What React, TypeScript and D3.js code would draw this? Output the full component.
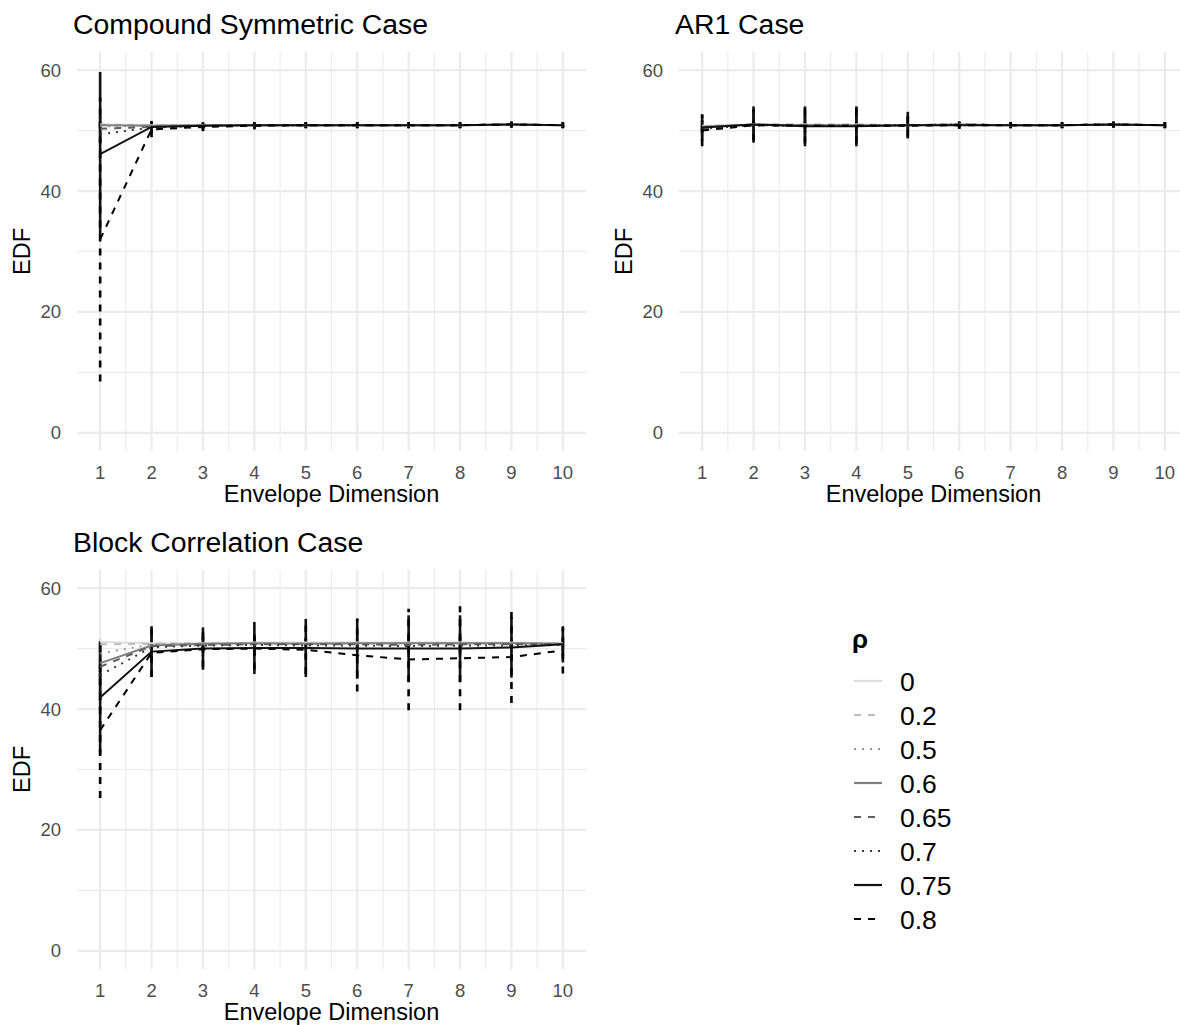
import React from "react";
import * as d3 from "d3";

const DIMS = [1, 2, 3, 4, 5, 6, 7, 8, 9, 10];
const RHO_LABELS = ["0", "0.2", "0.5", "0.6", "0.65", "0.7", "0.75", "0.8"];
const RHO_COLORS = ["#DDDDDD", "#BBBBBB", "#999999", "#7F7F7F", "#5E5E5E", "#3A3A3A", "#111111", "#000000"];
const RHO_DASH = ["", "7,7", "2,6", "", "7,7", "2,6", "", "7,7"];
const Y_TICKS = [0, 20, 40, 60];
const Y_MINOR = [10, 30, 50];
const X_MINOR = [1.5, 2.5, 3.5, 4.5, 5.5, 6.5, 7.5, 8.5, 9.5];

// Compound symmetric case: mean EDF per rho (rows) and envelope dimension (cols)
const csMean = [
  [51.0, 50.9, 50.9, 50.9, 50.9, 50.9, 50.9, 50.9, 51.0, 50.9],
  [51.0, 50.9, 50.9, 50.9, 50.9, 50.9, 50.9, 50.9, 51.0, 50.9],
  [50.7, 50.8, 50.9, 50.9, 50.9, 50.9, 50.9, 50.9, 51.0, 50.9],
  [50.9, 50.8, 50.9, 50.9, 50.9, 50.9, 50.9, 50.9, 51.0, 50.9],
  [50.3, 50.6, 50.8, 50.9, 50.9, 50.9, 50.9, 50.9, 51.0, 50.9],
  [49.4, 50.5, 50.8, 50.9, 50.9, 50.9, 50.9, 50.9, 51.0, 50.9],
  [46.1, 50.6, 50.8, 50.9, 50.9, 50.9, 50.9, 50.9, 51.0, 50.9],
  [32.0, 50.2, 50.6, 50.8, 50.9, 50.9, 50.9, 50.9, 51.0, 50.9],
];
const csErr = [
  [0.4, 0.3, 0.3, 0.3, 0.3, 0.3, 0.3, 0.3, 0.3, 0.3],
  [0.6, 0.4, 0.3, 0.3, 0.3, 0.3, 0.3, 0.3, 0.3, 0.3],
  [1.0, 0.5, 0.4, 0.3, 0.3, 0.3, 0.3, 0.3, 0.3, 0.3],
  [1.5, 0.6, 0.4, 0.4, 0.4, 0.4, 0.4, 0.4, 0.4, 0.4],
  [2.2, 0.7, 0.5, 0.4, 0.4, 0.4, 0.4, 0.4, 0.4, 0.4],
  [4.0, 0.8, 0.5, 0.5, 0.5, 0.5, 0.5, 0.5, 0.5, 0.5],
  [13.6, 1.0, 0.6, 0.5, 0.5, 0.5, 0.5, 0.5, 0.5, 0.5],
  [23.5, 1.3, 0.7, 0.6, 0.5, 0.5, 0.5, 0.5, 0.5, 0.5],
];

// AR1 case
const ar1Mean = [
  [50.8, 51.0, 51.0, 51.0, 50.9, 51.0, 50.9, 50.9, 51.0, 50.9],
  [50.7, 51.0, 51.0, 51.0, 50.9, 51.0, 50.9, 50.9, 51.0, 50.9],
  [50.6, 51.0, 50.9, 50.9, 50.9, 51.0, 50.9, 50.9, 51.0, 50.9],
  [50.6, 51.0, 50.9, 50.9, 50.9, 51.0, 50.9, 50.9, 51.0, 50.9],
  [50.4, 50.9, 50.8, 50.8, 50.9, 51.0, 50.9, 50.9, 51.0, 50.9],
  [50.3, 50.9, 50.8, 50.8, 50.9, 51.0, 50.9, 50.9, 51.0, 50.9],
  [50.5, 51.0, 50.7, 50.7, 50.9, 50.9, 50.9, 50.9, 51.0, 50.9],
  [50.0, 50.9, 50.8, 50.8, 50.8, 50.9, 50.9, 50.9, 51.0, 50.9],
];
const ar1Err = [
  [0.5, 0.5, 0.5, 0.5, 0.4, 0.3, 0.3, 0.3, 0.3, 0.3],
  [0.6, 0.7, 0.7, 0.7, 0.5, 0.3, 0.3, 0.3, 0.3, 0.3],
  [0.8, 1.0, 1.0, 1.0, 0.7, 0.4, 0.4, 0.4, 0.4, 0.4],
  [1.0, 1.3, 1.4, 1.4, 0.9, 0.4, 0.4, 0.4, 0.4, 0.4],
  [1.3, 1.8, 1.9, 1.9, 1.2, 0.5, 0.4, 0.4, 0.4, 0.4],
  [1.6, 2.3, 2.5, 2.5, 1.6, 0.5, 0.5, 0.5, 0.5, 0.5],
  [2.2, 3.0, 3.3, 3.3, 2.2, 0.6, 0.5, 0.5, 0.5, 0.5],
  [2.6, 2.6, 2.9, 2.9, 1.9, 0.6, 0.5, 0.5, 0.5, 0.5],
];

// Block correlation case
const blockMean = [
  [51.1, 50.9, 50.9, 51.0, 51.0, 51.0, 51.0, 51.0, 51.0, 50.9],
  [50.7, 50.8, 50.9, 50.9, 50.9, 50.9, 50.9, 50.9, 50.9, 50.9],
  [49.2, 50.7, 50.8, 50.8, 50.8, 50.8, 50.9, 50.9, 50.9, 50.8],
  [47.6, 50.5, 50.8, 50.9, 50.8, 50.9, 50.9, 50.9, 50.9, 50.8],
  [47.0, 50.4, 50.6, 50.7, 50.7, 50.7, 50.6, 50.7, 50.7, 50.7],
  [45.6, 50.2, 50.5, 50.6, 50.5, 50.5, 50.4, 50.5, 50.5, 50.6],
  [41.9, 49.5, 50.0, 50.1, 50.1, 50.0, 50.0, 50.0, 50.2, 50.7],
  [36.5, 49.3, 49.9, 50.0, 49.8, 48.9, 48.2, 48.4, 48.6, 49.7],
];
const blockErr = [
  [0.6, 0.5, 0.5, 0.5, 0.5, 0.5, 0.5, 0.5, 0.5, 0.5],
  [1.0, 0.6, 0.6, 0.6, 0.6, 0.6, 0.6, 0.6, 0.6, 0.6],
  [2.0, 0.8, 0.8, 0.8, 0.8, 0.8, 0.8, 0.8, 0.8, 0.8],
  [3.5, 1.0, 1.0, 1.0, 1.0, 1.0, 1.0, 1.0, 1.0, 1.0],
  [4.5, 1.5, 1.3, 1.3, 1.3, 1.3, 1.3, 1.3, 1.3, 1.3],
  [5.5, 2.2, 1.8, 1.8, 1.8, 1.8, 1.8, 1.8, 1.8, 1.8],
  [9.3, 4.2, 3.5, 4.3, 4.8, 5.0, 5.5, 5.5, 5.0, 3.0],
  [11.2, 4.0, 3.0, 3.5, 4.0, 6.0, 8.4, 8.6, 7.6, 3.8],
];

const FONT = "'Liberation Sans', Arial, Helvetica, sans-serif";
const PANEL_W = 509;
const PANEL_H = 399;

type PanelProps = {
  title: string;
  means: number[][];
  errs: number[][];
  left: number;
  top: number;
};

function Panel({ title, means, errs, left, top }: PanelProps) {
  const x = d3.scaleLinear().domain([0.55, 10.45]).range([left, left + PANEL_W]);
  const y = d3.scaleLinear().domain([-3, 63]).range([top + PANEL_H, top]);
  const line = d3
    .line<number>()
    .x((_, i) => x(DIMS[i]))
    .y((d) => y(d));
  const bottom = top + PANEL_H;
  const cx = left + PANEL_W / 2;
  const cy = top + PANEL_H / 2;
  return (
    <g>
      {Y_MINOR.map((v) => (
        <line key={"ym" + v} x1={left} x2={left + PANEL_W} y1={y(v)} y2={y(v)} stroke="#EBEBEB" strokeWidth={1.1} />
      ))}
      {X_MINOR.map((v) => (
        <line key={"xm" + v} x1={x(v)} x2={x(v)} y1={top} y2={bottom} stroke="#EBEBEB" strokeWidth={1.1} />
      ))}
      {Y_TICKS.map((v) => (
        <line key={"y" + v} x1={left} x2={left + PANEL_W} y1={y(v)} y2={y(v)} stroke="#EBEBEB" strokeWidth={2.2} />
      ))}
      {DIMS.map((v) => (
        <line key={"x" + v} x1={x(v)} x2={x(v)} y1={top} y2={bottom} stroke="#EBEBEB" strokeWidth={2.2} />
      ))}
      {means.map((row, s) =>
        row.map((m, i) => (
          <line
            key={"e" + s + "-" + i}
            x1={x(DIMS[i])}
            x2={x(DIMS[i])}
            y1={y(m - errs[s][i])}
            y2={y(m + errs[s][i])}
            stroke={RHO_COLORS[s]}
            strokeWidth={2.6}
            strokeDasharray={RHO_DASH[s] || undefined}
          />
        ))
      )}
      {means.map((row, s) => (
        <path
          key={"l" + s}
          d={line(row) || ""}
          fill="none"
          stroke={RHO_COLORS[s]}
          strokeWidth={2}
          strokeDasharray={RHO_DASH[s] || undefined}
        />
      ))}
      {Y_TICKS.map((v) => (
        <text key={"yt" + v} x={left - 16} y={y(v) + 6.5} textAnchor="end" fontSize={18.5} fill="#4D4D4D" fontFamily={FONT}>
          {v}
        </text>
      ))}
      {DIMS.map((v) => (
        <text key={"xt" + v} x={x(v)} y={bottom + 28} textAnchor="middle" fontSize={18.5} fill="#4D4D4D" fontFamily={FONT}>
          {v}
        </text>
      ))}
      <text x={cx} y={bottom + 51} textAnchor="middle" fontSize={23.5} fill="#000" fontFamily={FONT}>
        Envelope Dimension
      </text>
      <text
        transform={`translate(${left - 47},${cy}) rotate(-90)`}
        textAnchor="middle"
        fontSize={23.5}
        fill="#000"
        fontFamily={FONT}
      >
        EDF
      </text>
      <text x={left - 4} y={top - 18} fontSize={28.4} fill="#000" fontFamily={FONT}>
        {title}
      </text>
    </g>
  );
}

function Legend({ left, top }: { left: number; top: number }) {
  return (
    <g>
      <text x={left} y={top} fontSize={26} fontWeight="bold" fill="#000" fontFamily={FONT}>
        ρ
      </text>
      {RHO_LABELS.map((lab, i) => {
        const cy = top + 33 + i * 34;
        return (
          <g key={lab}>
            <line
              x1={left + 2}
              x2={left + 30}
              y1={cy}
              y2={cy}
              stroke={RHO_COLORS[i]}
              strokeWidth={2.2}
              strokeDasharray={RHO_DASH[i] || undefined}
            />
            <text x={left + 48} y={cy + 9.5} fontSize={26.5} fill="#000" fontFamily={FONT}>
              {lab}
            </text>
          </g>
        );
      })}
    </g>
  );
}

export default function App() {
  return (
    <svg
      width={1180}
      height={1025}
      style={{ position: "absolute", left: 0, top: 0, background: "#fff" }}
    >
      <rect width={1180} height={1025} fill="#fff" />
      <Panel title="Compound Symmetric Case" means={csMean} errs={csErr} left={77} top={52} />
      <Panel title="AR1 Case" means={ar1Mean} errs={ar1Err} left={679} top={52} />
      <Panel title="Block Correlation Case" means={blockMean} errs={blockErr} left={77} top={570} />
      <Legend left={852} top={648} />
    </svg>
  );
}
